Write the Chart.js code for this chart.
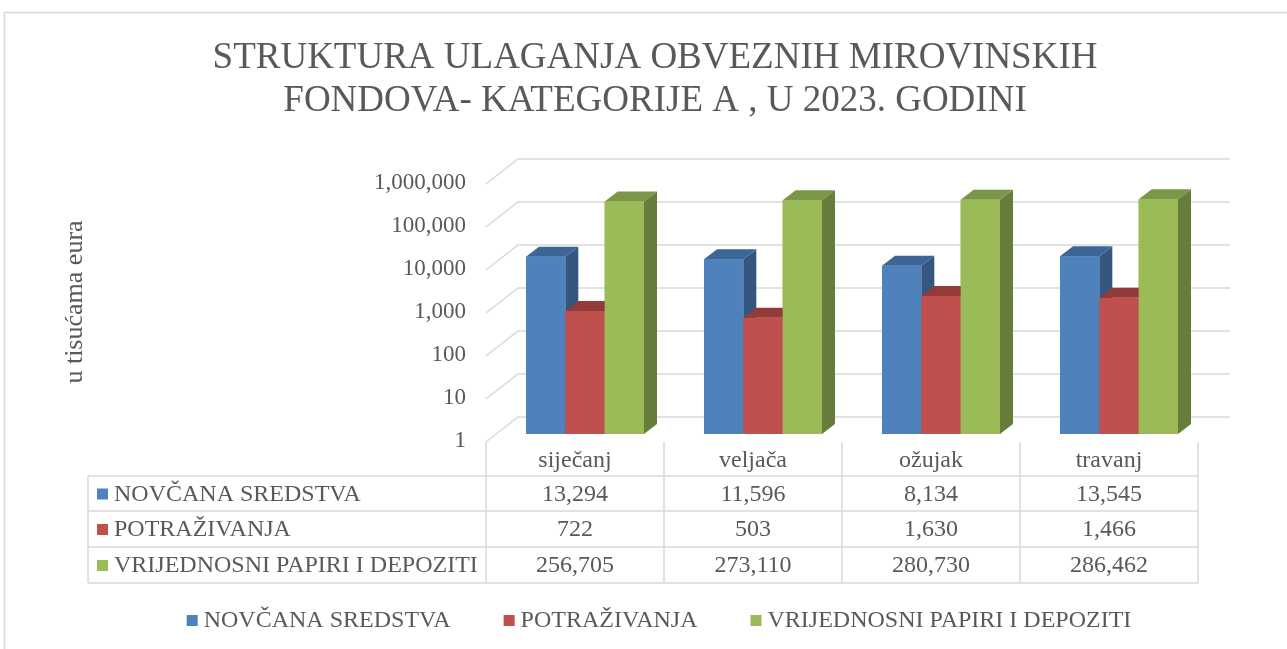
<!DOCTYPE html>
<html>
<head>
<meta charset="utf-8">
<script src="https://cdn.jsdelivr.net/npm/chart.js@4.4.0/dist/chart.umd.min.js"></script>
<style>
html, body { margin: 0; padding: 0; background: #fff; }
#wrap { width: 1287px; height: 649px; }
</style>
</head>
<body>
<div id="wrap"><canvas id="myChart"></canvas></div>
<script>
// podaci
var mjeseci = ["siječanj", "veljača", "ožujak", "travanj"];
var serije = ["NOVČANA SREDSTVA", "POTRAŽIVANJA", "VRIJEDNOSNI PAPIRI I DEPOZITI"];
var novcanaSredstva = [13294, 11596, 8134, 13545];
var potrazivanja = [722, 503, 1630, 1466];
var vrijednosniPapiri = [256705, 273110, 280730, 286462];
var yTicks = [1, 10, 100, 1000, 10000, 100000, 1000000];
var naslov = ["STRUKTURA ULAGANJA OBVEZNIH MIROVINSKIH", "FONDOVA- KATEGORIJE A , U 2023. GODINI"];
var osY = "u tisućama eura";

var boje = ["#4F81BD", "#C0504D", "#9BBB59"];
var bojeStrana = ["#34567F", "#833735", "#677D3B"];
var bojeVrh = ["#3D6696", "#923B39", "#7A9647"];

var FONT = "'Liberation Serif', 'Times New Roman', serif";
var SIVA = "#595959";
var LINIJA = "#D9D9D9";
var DUB = { x: 13, y: -10 };      // dubina stupca
var NAPRIJED = { x: -10, y: 8 };  // prednja ravnina
var NAZAD = { x: 22, y: -17 };    // stražnji zid

function fmt(v) { return Number(v).toLocaleString('en-US'); }

function poly(c, pts, fill) {
  c.beginPath();
  c.moveTo(pts[0][0], pts[0][1]);
  for (var k = 1; k < pts.length; k++) c.lineTo(pts[k][0], pts[k][1]);
  c.closePath();
  c.fillStyle = fill;
  c.fill();
}

var crtez3d = {
  id: 'crtez3d',
  beforeDraw: function (chart) {
    var c = chart.ctx, a = chart.chartArea, ys = chart.scales.y;
    c.save();
    c.fillStyle = '#fff';
    c.fillRect(0, 0, chart.width, chart.height);
    c.strokeStyle = LINIJA;
    c.lineWidth = 1.5;
    c.strokeRect(4.5, 12.5, chart.width, chart.height);

    // naslov
    c.fillStyle = SIVA;
    c.font = "37px " + FONT;
    c.textAlign = 'center';
    c.textBaseline = 'middle';
    c.fillText(naslov[0], 655, 58);
    c.fillText(naslov[1], 655, 101);

    // naslov osi
    c.save();
    c.translate(75, 302);
    c.rotate(-Math.PI / 2);
    c.font = "26px " + FONT;
    c.fillText(osY, 0, 0);
    c.restore();

    // zidovi
    c.strokeStyle = LINIJA;
    c.lineWidth = 1.5;
    yTicks.forEach(function (v) {
      var y = ys.getPixelForValue(v);
      c.beginPath();
      c.moveTo(a.left + NAPRIJED.x, y + NAPRIJED.y);
      c.lineTo(a.left + NAZAD.x, y + NAZAD.y);
      c.lineTo(a.right + NAZAD.x, y + NAZAD.y);
      c.stroke();
    });
    c.restore();
  },
  afterDatasetsDraw: function (chart) {
    var c = chart.ctx;
    c.save();
    for (var j = 0; j < mjeseci.length; j++) {
      for (var i = 0; i < serije.length; i++) {
        var b = chart.getDatasetMeta(i).data[j];
        var l = b.x - b.width / 2, r = b.x + b.width / 2, t = b.y, bs = b.base;
        poly(c, [[r, t], [r + DUB.x, t + DUB.y], [r + DUB.x, bs + DUB.y], [r, bs]], bojeStrana[i]);
        poly(c, [[l, t], [l + DUB.x, t + DUB.y], [r + DUB.x, t + DUB.y], [r, t]], bojeVrh[i]);
        c.fillStyle = boje[i];
        c.fillRect(l, t, r - l, bs - t);
      }
    }
    c.restore();
  },
  afterDraw: function (chart) {
    var c = chart.ctx, xs = chart.scales.x, ys = chart.scales.y;
    var sirina = xs.getPixelForValue(1) - xs.getPixelForValue(0);
    var dno = ys.getPixelForValue(1) + NAPRIJED.y;
    var redovi = [476, 511, 547, 583];
    var lijevo = 88;
    var granice = [];
    for (var j = 0; j <= mjeseci.length; j++) {
      granice.push(xs.getPixelForValue(0) - sirina / 2 + j * sirina + NAPRIJED.x);
    }
    var desno = granice[granice.length - 1];
    c.save();
    c.strokeStyle = LINIJA;
    c.lineWidth = 1.5;
    redovi.forEach(function (y) {
      c.beginPath(); c.moveTo(lijevo, y); c.lineTo(desno, y); c.stroke();
    });
    c.beginPath(); c.moveTo(lijevo, redovi[0]); c.lineTo(lijevo, redovi[3]); c.stroke();
    granice.forEach(function (x) {
      c.beginPath(); c.moveTo(x, dno); c.lineTo(x, redovi[3]); c.stroke();
    });

    c.fillStyle = SIVA;
    c.font = "24px " + FONT;
    c.textBaseline = 'middle';
    c.textAlign = 'center';
    mjeseci.forEach(function (m, j) {
      c.fillText(m, (granice[j] + granice[j + 1]) / 2, 461);
    });
    var podaci = chart.data.datasets;
    for (var i = 0; i < serije.length; i++) {
      var yc = (redovi[i] + redovi[i + 1]) / 2 + 1;
      c.fillStyle = boje[i];
      c.fillRect(97, yc - 6, 11, 11);
      c.fillStyle = SIVA;
      c.textAlign = 'left';
      c.fillText(serije[i], 114, yc);
      c.textAlign = 'center';
      for (var j = 0; j < mjeseci.length; j++) {
        c.fillText(fmt(podaci[i].data[j]), (granice[j] + granice[j + 1]) / 2, yc);
      }
    }

    // legenda
    var razmak = 53, kutija = 11, gap = 6;
    var ukupno = 0;
    var sir = serije.map(function (s) { return c.measureText(s).width; });
    sir.forEach(function (w, k) { ukupno += kutija + gap + w + (k ? razmak : 0); });
    var x = 659 - ukupno / 2, yl = 621;
    c.textAlign = 'left';
    for (var k = 0; k < serije.length; k++) {
      c.fillStyle = boje[k];
      c.fillRect(x, yl - 6, kutija, kutija);
      c.fillStyle = SIVA;
      c.fillText(serije[k], x + kutija + gap, yl);
      x += kutija + gap + sir[k] + razmak;
    }
    c.restore();
  }
};

var ctx = document.getElementById("myChart");
new Chart(ctx, {
  type: 'bar',
  data: {
    labels: mjeseci,
    datasets: [
      { label: serije[0], data: novcanaSredstva, backgroundColor: boje[0] },
      { label: serije[1], data: potrazivanja, backgroundColor: boje[1] },
      { label: serije[2], data: vrijednosniPapiri, backgroundColor: boje[2] }
    ]
  },
  options: {
    responsive: true,
    maintainAspectRatio: false,
    animation: false,
    datasets: { bar: { barPercentage: 1, categoryPercentage: 0.663 } },
    layout: { padding: { left: 0, top: 176, right: 79, bottom: 215 } },
    plugins: { legend: { display: false }, title: { display: false }, tooltip: { enabled: false } },
    scales: {
      x: { display: false },
      y: {
        type: 'logarithmic',
        min: 1,
        max: 1000000,
        afterBuildTicks: function (s) { s.ticks = yTicks.map(function (v) { return { value: v }; }); },
        afterFit: function (s) { s.width = 496; },
        grid: { display: false },
        border: { display: false },
        ticks: {
          font: { family: FONT, size: 23 },
          color: SIVA,
          padding: 22,
          labelOffset: 7,
          callback: function (v) { return fmt(v); }
        }
      }
    }
  },
  plugins: [crtez3d]
});
</script>
</body>
</html>
